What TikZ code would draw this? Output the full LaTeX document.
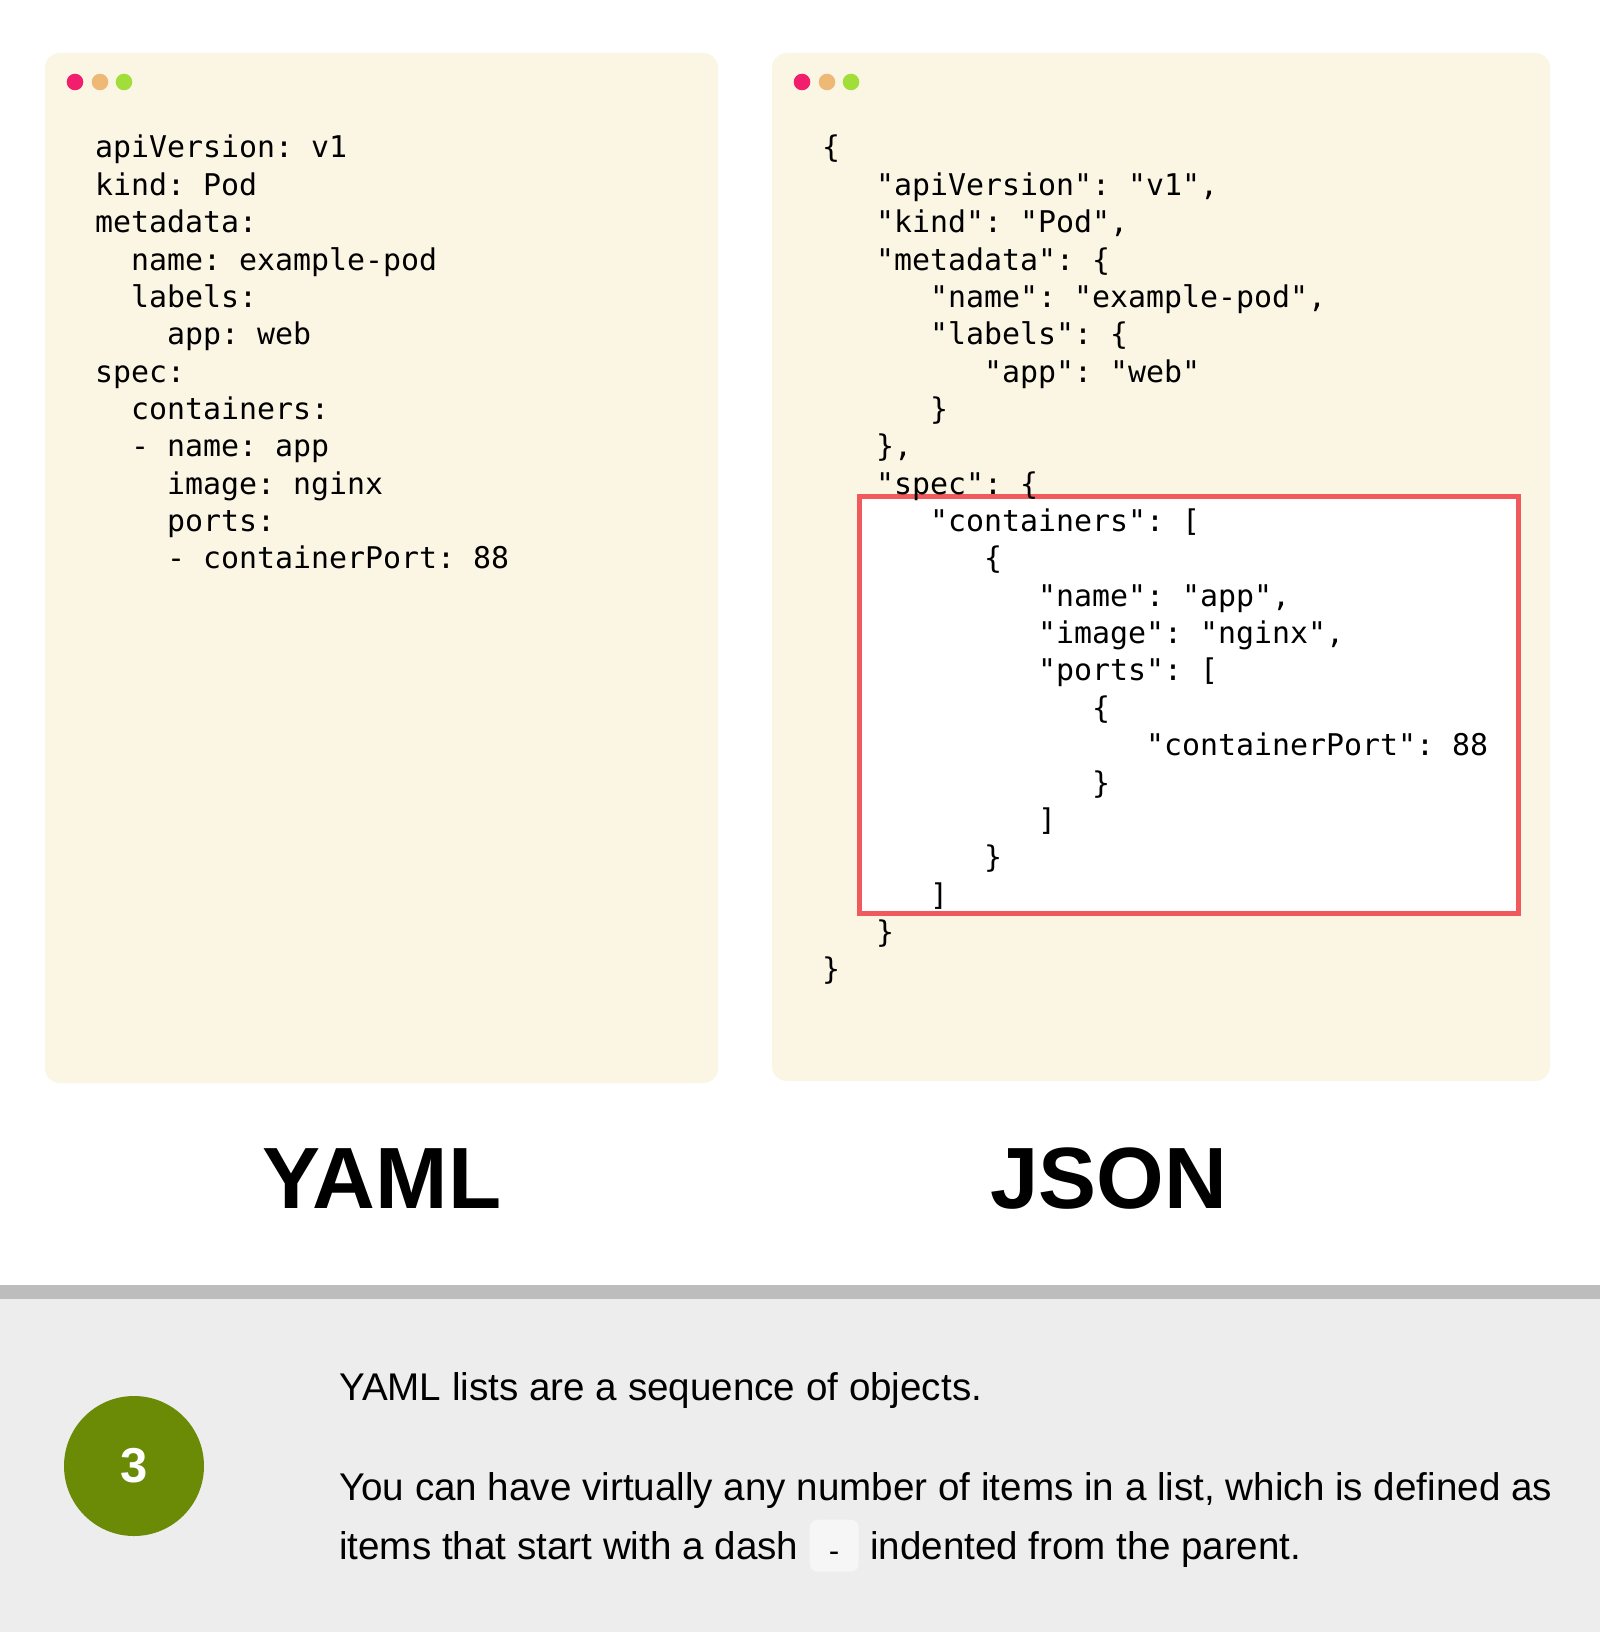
\documentclass[tikz,border=0pt]{standalone}
\usepackage{fontspec}
\setmainfont{Liberation Sans}
\setmonofont{DejaVu Sans Mono}
\usepackage{tikz}
\usetikzlibrary{positioning}
\usepackage{xcolor}
\definecolor{panelbg}{HTML}{FBF5E4}
\definecolor{dotred}{HTML}{F01E6C}
\definecolor{dotorange}{HTML}{EEB876}
\definecolor{dotgreen}{HTML}{A2DE3A}
\definecolor{boxred}{HTML}{F05A5C}
\definecolor{barline}{HTML}{BDBDBD}
\definecolor{notebg}{HTML}{EDEDED}
\definecolor{stepgreen}{HTML}{6B8A06}
\definecolor{dashbg}{HTML}{F6F6F6}
\newcommand\codefont{\ttfamily\fontsize{29.9}{36}\selectfont}
\newcommand\titlefont{\bfseries\fontsize{87}{100}\selectfont}
\newcommand\notefont{\fontsize{38.6}{46}\selectfont}

\begin{document}
\begin{tikzpicture}[x=1pt,y=-1pt,
  code/.style={anchor=base west, inner sep=0, font=\codefont},
  title/.style={anchor=base, inner sep=0, font=\titlefont},
  note/.style={anchor=base west, inner sep=0, font=\notefont},
  dot/.style={circle, inner sep=0, minimum size=16.6}]
\useasboundingbox (0,0) rectangle (1600,1632);
\fill [white] (0,0) rectangle (1600,1285);
\fill [barline] (0,1285) rectangle (1600,1299);
\fill [notebg] (0,1299) rectangle (1600,1632);
% code windows
\fill [panelbg, rounded corners=15] (45,53) rectangle (718,1083);
\fill [panelbg, rounded corners=15] (772,53) rectangle (1550,1081);
\node [dot, fill=dotred] (yr) at (75,82) {};
\node [dot, fill=dotorange] (yo) at (100,82) {};
\node [dot, fill=dotgreen] (yg) at (124,82) {};
\node [dot, fill=dotred] (jr) at (802,82) {};
\node [dot, fill=dotorange] (jo) at (827,82) {};
\node [dot, fill=dotgreen] (jg) at (851,82) {};
% yaml
\node [code] (y1) at (95,158) {apiVersion: v1};
\node [code] (y2) at (95,195.4) {kind: Pod};
\node [code] (y3) at (95,232.7) {metadata:};
\node [code] (y4) at (131,270.1) {name: example-pod};
\node [code] (y5) at (131,307.4) {labels:};
\node [code] (y6) at (167,344.8) {app: web};
\node [code] (y7) at (95,382.1) {spec:};
\node [code] (y8) at (131,419.5) {containers:};
\node [code] (y9) at (131,456.8) {- name: app};
\node [code] (y10) at (167,494.2) {image: nginx};
\node [code] (y11) at (167,531.5) {ports:};
\node [code] (y12) at (167,568.9) {- containerPort: 88};
% json, list part framed
\draw [boxred, line width=5, fill=white] (859,496) rectangle (1518.5,913.5);
\node [code] (j1) at (822,158) {\{};
\node [code] (j2) at (876,195.4) {"apiVersion": "v1",};
\node [code] (j3) at (876,232.7) {"kind": "Pod",};
\node [code] (j4) at (876,270.1) {"metadata": \{};
\node [code] (j5) at (930,307.4) {"name": "example-pod",};
\node [code] (j6) at (930,344.8) {"labels": \{};
\node [code] (j7) at (984,382.1) {"app": "web"};
\node [code] (j8) at (930,419.5) {\}};
\node [code] (j9) at (876,456.8) {\},};
\node [code] (j10) at (876,494.2) {"spec": \{};
\node [code] (j11) at (930,531.5) {"containers": [};
\node [code] (j12) at (984,568.9) {\{};
\node [code] (j13) at (1038,606.2) {"name": "app",};
\node [code] (j14) at (1038,643.6) {"image": "nginx",};
\node [code] (j15) at (1038,680.9) {"ports": [};
\node [code] (j16) at (1092,718.3) {\{};
\node [code] (j17) at (1146,755.6) {"containerPort": 88};
\node [code] (j18) at (1092,793) {\}};
\node [code] (j19) at (1038,830.3) {]};
\node [code] (j20) at (984,867.7) {\}};
\node [code] (j21) at (930,905) {]};
\node [code] (j22) at (876,942.4) {\}};
\node [code] (j23) at (822,979.7) {\}};
% titles
\node [title] (yaml) at (382,1208) {YAML};
\node [title] (json) at (1109,1208) {JSON};
% note
\node [circle, fill=stepgreen, minimum size=140, inner sep=0, text=white,
  font=\bfseries\fontsize{49}{56}\selectfont] (step3) at (134,1466) {3};
\node [note] (n1) at (339,1400) {YAML lists are a sequence of objects.};
\node [note] (n2) at (339,1500) {You can have virtually any number of items in a list, which is defined as};
\node [note] (n3a) at (339,1559.5) {items that start with a dash};
\node [fill=dashbg, rounded corners=8, minimum width=49, minimum height=52,
  inner sep=0, text height=32pt, text depth=0pt, font=\codefont,
  right=11 of n3a] (dash) {-};
\node [note] (n3b) at ([xshift=11]dash.east |- n3a.base) {indented from the parent.};
\end{tikzpicture}
\end{document}
